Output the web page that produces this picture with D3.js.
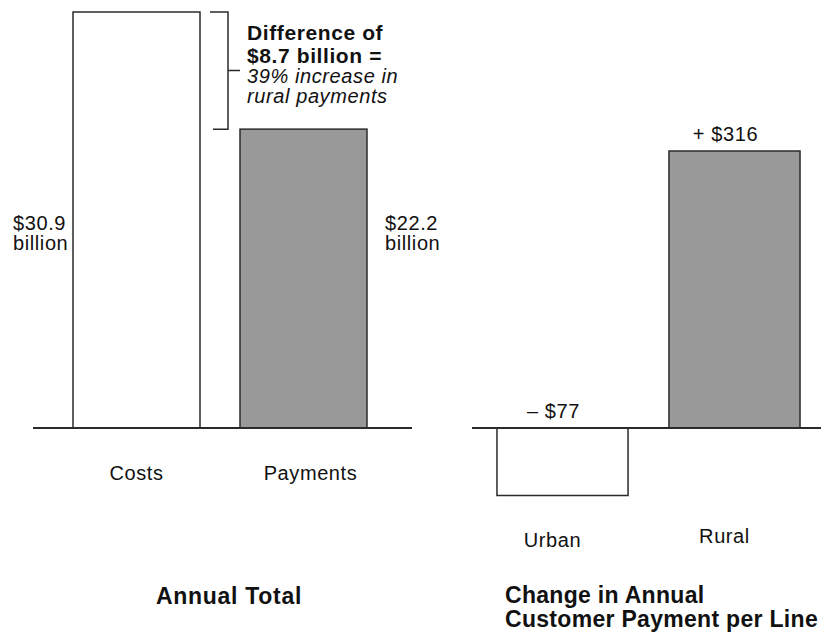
<!DOCTYPE html>
<html>
<head>
<meta charset="utf-8">
<script src="https://cdn.jsdelivr.net/npm/d3@7/dist/d3.min.js"></script>
<style>
  html, body { margin: 0; padding: 0; background: #fff; }
  svg { display: block; }
  text { font-family: "Liberation Sans", Arial, Helvetica, sans-serif; fill: #111; letter-spacing: 0.6px; }
  text.title { letter-spacing: 0.7px; }
  text.title.tight { letter-spacing: 0.3px; }
</style>
</head>
<body>
<div id="chart"></div>
<script>
// Annual totals (billions of dollars)
const totalCategories = ["Costs", "Payments"];
const totalValues = [30.9, 22.2];
const totalLabels = [["$30.9", "billion"], ["$22.2", "billion"]];

// Change in annual customer payment per line (dollars)
const changeCategories = ["Urban", "Rural"];
const changeValues = [-77, 316];
const changeLabels = ["\u2013 $77", "+ $316"];

const panelTitles = [["Annual Total"], ["Change in Annual", "Customer Payment per Line"]];

const W = 821, H = 633;
const GRAY = "#999999", STROKE = "#2b2b2b";

const svg = d3.select("#chart").append("svg")
  .attr("width", W).attr("height", H);

const baseY = 428;

// ---------- Left panel: annual totals ----------
const xL = d3.scaleBand().domain(totalCategories)
  .range([53, 387]).paddingInner(0.2395).paddingOuter(0.1198);
const yL = d3.scaleLinear().domain([0, d3.max(totalValues)]).range([baseY, 12]);

const left = svg.append("g");
left.selectAll("rect.bar").data(totalCategories).join("rect")
  .attr("class", "bar")
  .attr("x", d => xL(d))
  .attr("width", xL.bandwidth())
  .attr("y", (d, i) => yL(totalValues[i]))
  .attr("height", (d, i) => yL(0) - yL(totalValues[i]))
  .attr("fill", (d, i) => i === 0 ? "#fff" : GRAY)
  .attr("stroke", STROKE).attr("stroke-width", 1.5);

left.append("line")
  .attr("x1", 33).attr("x2", 412)
  .attr("y1", yL(0)).attr("y2", yL(0))
  .attr("stroke", STROKE).attr("stroke-width", 2);

// value labels beside the bars
const valueLabelY = 230;
totalCategories.forEach((c, i) => {
  const x = i === 0 ? xL(c) - 60 : xL(c) + xL.bandwidth() + 18;
  const t = left.append("text").attr("x", x).attr("y", valueLabelY)
    .attr("font-size", 20);
  totalLabels[i].forEach((s, k) => {
    t.append("tspan").attr("x", x).attr("dy", k === 0 ? 0 : 20).text(s);
  });
});

// category labels
left.selectAll("text.cat").data(totalCategories).join("text")
  .attr("class", "cat")
  .attr("x", (d, i) => xL(d) + xL.bandwidth() / 2 + (i === 0 ? 0 : 7))
  .attr("y", 480)
  .attr("text-anchor", "middle")
  .attr("font-size", 20)
  .text(d => d);

// bracket showing the difference between the two totals
const bx = 228;
const yTop = yL(totalValues[0]), yBot = yL(totalValues[1]);
const yMid = (yTop + yBot) / 2;
const bracket = d3.path();
bracket.moveTo(210, yTop); bracket.lineTo(bx, yTop);
bracket.lineTo(bx, yBot); bracket.lineTo(213, yBot);
bracket.moveTo(bx, yMid); bracket.lineTo(240, yMid);
left.append("path").attr("d", bracket.toString())
  .attr("fill", "none").attr("stroke", STROKE).attr("stroke-width", 1.5);

const diff = totalValues[0] - totalValues[1];
const pct = Math.round(diff / totalValues[1] * 100);
const note = left.append("text").attr("x", 247).attr("y", 40).attr("font-size", 20);
note.append("tspan").attr("x", 247).attr("dy", 0)
  .attr("font-weight", "bold").attr("font-size", 21).text("Difference of");
note.append("tspan").attr("x", 247).attr("dy", 23)
  .attr("font-weight", "bold").attr("font-size", 21).text("$" + diff.toFixed(1) + " billion =");
note.append("tspan").attr("x", 247).attr("dy", 20)
  .attr("font-style", "italic").text(pct + "% increase in");
note.append("tspan").attr("x", 247).attr("dy", 20)
  .attr("font-style", "italic").text("rural payments");

left.append("text").attr("class", "title").attr("x", 229).attr("y", 604)
  .attr("text-anchor", "middle").attr("font-size", 23).attr("font-weight", "bold")
  .text(panelTitles[0][0]);

// ---------- Right panel: change per line ----------
const xR = d3.scaleBand().domain(changeCategories)
  .range([476.5, 820.5]).paddingInner(0.238).paddingOuter(0.119);
const yR = d3.scaleLinear().domain([0, d3.max(changeValues)]).range([baseY, 151]);

const right = svg.append("g");
right.selectAll("rect.bar").data(changeCategories).join("rect")
  .attr("class", "bar")
  .attr("x", d => xR(d))
  .attr("width", xR.bandwidth())
  .attr("y", (d, i) => yR(Math.max(0, changeValues[i])))
  .attr("height", (d, i) => Math.abs(yR(changeValues[i]) - yR(0)))
  .attr("fill", (d, i) => changeValues[i] < 0 ? "#fff" : GRAY)
  .attr("stroke", STROKE).attr("stroke-width", 1.5);

right.append("line")
  .attr("x1", 472).attr("x2", W)
  .attr("y1", yR(0)).attr("y2", yR(0))
  .attr("stroke", STROKE).attr("stroke-width", 2);

// value labels above the bars (or above the axis for negative values)
right.selectAll("text.val").data(changeCategories).join("text")
  .attr("class", "val")
  .attr("x", d => xR(d) + xR.bandwidth() / 2 - 9)
  .attr("y", (d, i) => yR(Math.max(0, changeValues[i])) - 10)
  .attr("text-anchor", "middle")
  .attr("font-size", 20)
  .text((d, i) => changeLabels[i]);

right.selectAll("text.cat").data(changeCategories).join("text")
  .attr("class", "cat")
  .attr("x", d => xR(d) + xR.bandwidth() / 2 - 10)
  .attr("y", (d, i) => i === 0 ? 547 : 543)
  .attr("text-anchor", "middle")
  .attr("font-size", 20)
  .text(d => d);

// two-line title, kept inside the right edge
panelTitles[1].forEach((s, k) => {
  right.append("text").attr("class", "title tight")
    .attr("x", 505).attr("y", 603 + k * 24)
    .attr("font-size", 23).attr("font-weight", "bold")
    .text(s);
});
</script>
</body>
</html>
